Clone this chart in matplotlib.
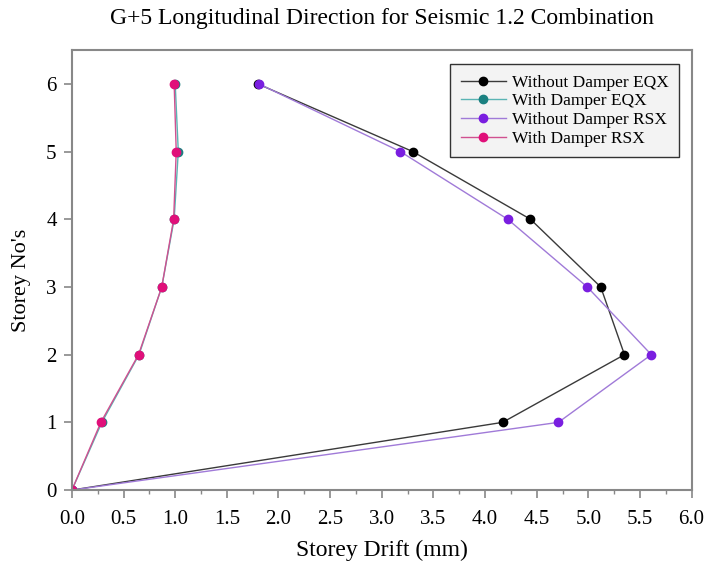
import matplotlib
matplotlib.use("Agg")
import matplotlib.pyplot as plt

storeys = [0, 1, 2, 3, 4, 5, 6]
without_eqx = [0.0, 4.17, 5.35, 5.12, 4.44, 3.30, 1.80]
with_eqx = [0.0, 0.29, 0.65, 0.87, 0.99, 1.03, 1.00]
without_rsx = [0.0, 4.71, 5.61, 4.99, 4.22, 3.18, 1.81]
with_rsx = [0.0, 0.28, 0.645, 0.87, 0.985, 1.01, 0.99]

series = [
    ("Without Damper EQX", without_eqx, "#3a3a3a", "#000000"),
    ("With Damper EQX", with_eqx, "#5ab4b4", "#1a8080"),
    ("Without Damper RSX", without_rsx, "#a07ad8", "#7a1ee0"),
    ("With Damper RSX", with_rsx, "#d05090", "#e0107a"),
]

plt.rcParams["font.family"] = "Liberation Serif"

fig = plt.figure(figsize=(7.05, 5.62), dpi=100)
ax = fig.add_axes([0.102, 0.128, 0.879, 0.783])

for label, xs, lc, mc in series:
    ax.plot(xs, storeys, color=lc, linewidth=1.0, marker="o", markersize=6,
            markerfacecolor=mc, markeredgecolor=mc, label=label)

ax.set_xlim(0, 6)
ax.set_ylim(0, 6.5)
ax.set_xticks([i * 0.5 for i in range(13)])
ax.set_xticks([i * 0.25 for i in range(25)], minor=True)
ax.set_yticks(storeys)
ax.tick_params(axis="both", which="major", direction="out", length=6,
               width=1.2, color="#888888")
ax.tick_params(axis="x", which="major", labelsize=15, pad=8)
ax.tick_params(axis="y", which="major", labelsize=15, pad=5)
ax.tick_params(axis="x", which="minor", direction="out", length=3,
               width=1.0, color="#888888")
for s in ax.spines.values():
    s.set_color("#888888")
    s.set_linewidth(1.5)

ax.set_xlabel("Storey Drift (mm)", fontsize=17, labelpad=8)
ax.set_ylabel("Storey No's", fontsize=16)
ax.yaxis.set_label_coords(-0.066, 0.477)
fig.suptitle("G+5 Longitudinal Direction for Seismic 1.2 Combination",
             fontsize=17, x=0.542, y=0.985)

leg = ax.legend(loc="upper right", bbox_to_anchor=(0.980, 0.968), fontsize=12.5,
                frameon=True, fancybox=False, edgecolor="#333333",
                facecolor="#f3f3f3", framealpha=1, handlelength=2.6,
                labelspacing=0.15, borderpad=0.6, handletextpad=0.35,
                borderaxespad=0)
leg.get_frame().set_linewidth(1.0)

fig.savefig("out.png", dpi=100)
